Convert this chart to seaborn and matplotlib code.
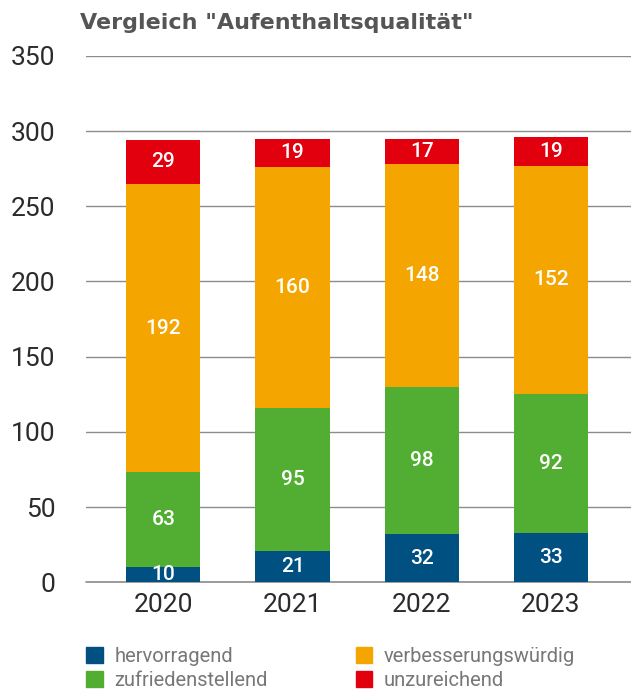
import numpy as np
import pandas as pd
import matplotlib
matplotlib.use("Agg")
import matplotlib.pyplot as plt
import seaborn as sns
from matplotlib.patches import Patch

years = ["2020", "2021", "2022", "2023"]
categories = ["hervorragend", "zufriedenstellend", "verbesserungswürdig", "unzureichend"]
hervorragend = [10, 21, 32, 33]
zufriedenstellend = [63, 95, 98, 92]
verbesserungswuerdig = [192, 160, 148, 152]
unzureichend = [29, 19, 17, 19]
colors = ["#005082", "#52ae32", "#f5a500", "#e2000f"]

df = pd.DataFrame({"Jahr": years,
                   "hervorragend": hervorragend,
                   "zufriedenstellend": zufriedenstellend,
                   "verbesserungswürdig": verbesserungswuerdig,
                   "unzureichend": unzureichend})

sns.set_style("white")
plt.rcParams["font.family"] = ["Roboto", "DejaVu Sans"]

fig = plt.figure(figsize=(6.31, 6.89), dpi=100)
ax = fig.add_axes([0.136, 0.155, 0.864, 0.764])

bottom = np.zeros(len(years))
for cat, col in zip(categories, colors):
    vals = df[cat].values
    sns.barplot(data=df, x="Jahr", y=cat, color=col, bottom=bottom, width=0.574,
                saturation=1, linewidth=0, ax=ax, zorder=3)
    for i, v in enumerate(vals):
        ax.text(i, bottom[i] + v / 2, str(v), ha="center", va="center",
                color="white", fontsize=15, fontweight="medium", zorder=4)
    bottom = bottom + vals

ax.set_ylim(0, 350)
ax.set_xlim(-0.6, 3.62)
ax.set_yticks(range(0, 351, 50))
ax.yaxis.grid(True, color="#8c8c8c", linewidth=1, zorder=0)
ax.axhline(0, color="#8c8c8c", linewidth=1.2, zorder=2.5, clip_on=False)
ax.set_xlabel("")
ax.set_ylabel("")
for s in ax.spines.values():
    s.set_visible(False)
ax.tick_params(axis="both", length=0, labelsize=19, labelcolor="#2b2b2b")
ax.tick_params(axis="y", pad=22)
ax.tick_params(axis="x", pad=8)

fig.text(0.127, 0.966, 'Vergleich "Aufenthaltsqualität"', fontsize=16,
         fontweight="bold", color="#555555", va="center",
         family=["DejaVu Sans"])

handles = [Patch(color=c, label=l) for c, l in zip(colors, categories)]
fig.legend(handles=handles, ncol=2, loc="upper left", bbox_to_anchor=(0.137, 0.061),
           frameon=False, fontsize=14.5, labelcolor="#777777", handlelength=0.8,
           handleheight=0.8, handletextpad=0.6, columnspacing=4.35, labelspacing=0.25,
           borderaxespad=0, borderpad=0)

fig.savefig("out.png", dpi=100)
